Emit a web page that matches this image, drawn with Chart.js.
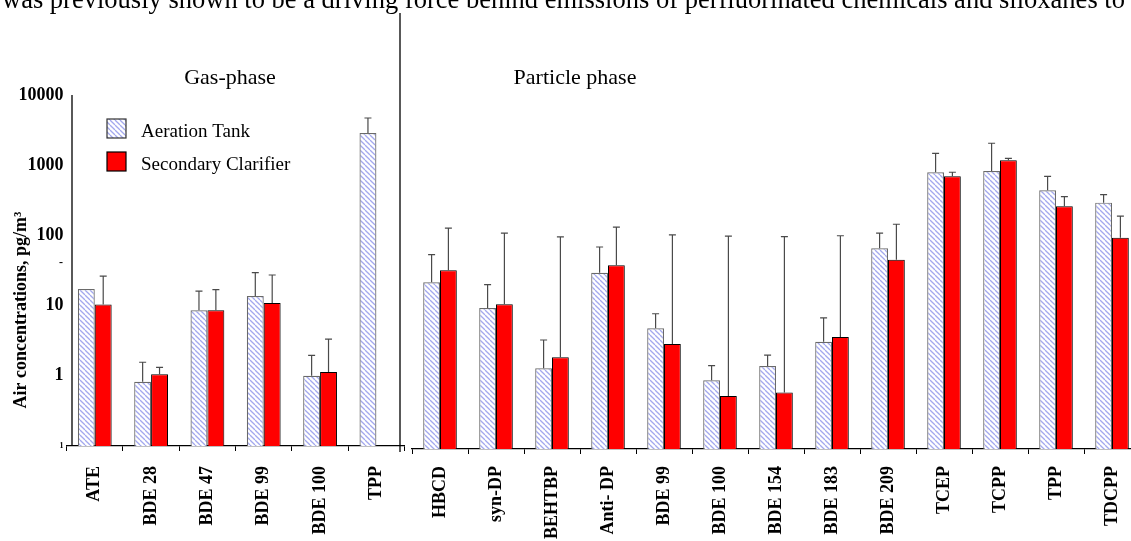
<!DOCTYPE html>
<html>
<head>
<meta charset="utf-8">
<script src="https://cdn.jsdelivr.net/npm/chart.js@4/dist/chart.umd.min.js"></script>
<style>
  html, body { margin: 0; padding: 0; background: #fff; overflow: hidden; width: 1131px; height: 541px; }
  canvas { position: absolute; left: 0; top: 0; }
</style>
</head>
<body>
<canvas id="gasChart" width="413" height="541"></canvas>
<canvas id="particleChart" width="1150" height="541"></canvas>
<script>
const topLine = 'was previously shown to be a driving force behind emissions of perfluorinated chemicals and siloxanes to';

const gasCategories = ['ATE', 'BDE 28', 'BDE 47', 'BDE 99', 'BDE 100', 'TPP'];
const gasAeration = [17.2, 0.82, 8.6, 13.7, 1.0, 2880];
const gasAerationErr = [null, 1.56, 16.1, 29.4, 1.96, 4700];
const gasClarifier = [10.4, 1.05, 8.6, 10.9, 1.13, null];
const gasClarifierErr = [26.3, 1.32, 16.9, 27.3, 3.34, null];

const particleCategories = ['HBCD', 'syn-DP', 'BEHTBP', 'Anti- DP', 'BDE 99', 'BDE 100', 'BDE 154',
  'BDE 183', 'BDE 209', 'TCEP', 'TCPP', 'TPP', 'TDCPP'];
const particleAeration = [23.7, 10.2, 1.41, 32.4, 5.24, 0.95, 1.52, 3.37, 72.3, 875, 912, 484, 323];
const particleAerationErr = [58.6, 21.9, 3.57, 75.4, 8.45, 1.54, 2.18, 7.4, 119, 1630, 2265, 767, 420];
const particleClarifier = [35.2, 11.5, 2.02, 41.4, 3.13, 0.57, 0.64, 3.94, 49.8, 767, 1297, 286, 102];
const particleClarifierErr = [140, 119, 105, 145, 112, 108, 106, 109, 159, 875, 1384, 393, 208];

const yTicks = [0.1, 1, 10, 100, 1000, 10000];
const yTickLabels = ['1', '1', '10', '100', '1000', '10000'];

const serif = "'Liberation Serif', 'Times New Roman', serif";

// hatched fill for the aeration tank bars
function makeHatch() {
  const c = document.createElement('canvas');
  c.width = 5; c.height = 5;
  const g = c.getContext('2d');
  g.fillStyle = '#fff';
  g.fillRect(0, 0, 5, 5);
  g.strokeStyle = '#a3a8ee';
  g.lineWidth = 1.3;
  for (const k of [-5, 0, 5]) {
    g.beginPath();
    g.moveTo(k, 0);
    g.lineTo(k + 5, 5);
    g.stroke();
  }
  return g.createPattern(c, 'repeat');
}
const hatch = makeHatch();

function datasets(aer, aerErr, cla, claErr) {
  return [
    { label: 'Aeration Tank', data: aer, errorTops: aerErr, backgroundColor: hatch,
      borderColor: '#6a6a6a', borderWidth: 1.2, categoryPercentage: 0.6, barPercentage: 1.0 },
    { label: 'Secondary Clarifier', data: cla, errorTops: claErr, backgroundColor: '#ff0000',
      borderColor: '#000', borderWidth: 1, categoryPercentage: 0.6, barPercentage: 1.0 }
  ];
}

const errorBars = {
  id: 'errorBars',
  afterDatasetsDraw(chart) {
    const ctx = chart.ctx;
    const y = chart.scales.y;
    ctx.save();
    ctx.strokeStyle = '#4a4a4a';
    ctx.lineWidth = 1.2;
    chart.data.datasets.forEach((ds, i) => {
      chart.getDatasetMeta(i).data.forEach((bar, j) => {
        const top = ds.errorTops[j];
        if (top == null || ds.data[j] == null) return;
        const yt = y.getPixelForValue(top);
        ctx.beginPath();
        ctx.moveTo(bar.x, bar.y);
        ctx.lineTo(bar.x, yt);
        ctx.moveTo(bar.x - 3.5, yt);
        ctx.lineTo(bar.x + 3.5, yt);
        ctx.stroke();
      });
    });
    ctx.restore();
  }
};

function scales(cfg) {
  return {
    x: {
      offset: true,
      grid: { display: true, drawOnChartArea: false, drawTicks: true, tickLength: 5, offset: true, color: '#000', lineWidth: 1 },
      border: { display: true, color: '#000', width: 1.3 },
      ticks: { autoSkip: false, minRotation: 90, maxRotation: 90, padding: cfg.tickPad, color: '#000',
        font: { family: serif, size: 18, weight: 'bold' } },
      afterFit(s) { s.height = cfg.xHeight; }
    },
    y: {
      type: 'logarithmic',
      display: cfg.showY,
      min: 0.1, max: 10000,
      grid: { display: false, drawTicks: false },
      border: { display: false },
      afterBuildTicks(s) { s.ticks = yTicks.map(v => ({ value: v })); },
      ticks: {
        padding: 3, color: '#000',
        font: (c) => ({ family: serif, size: c.index === 0 ? 8 : 18, weight: 'bold' }),
        callback: (v) => yTickLabels[yTicks.indexOf(v)]
      },
      afterFit(s) { s.width = cfg.yWidth; }
    }
  };
}

const gasDecor = {
  id: 'gasDecor',
  afterDraw(chart) {
    const ctx = chart.ctx;
    const a = chart.chartArea;
    ctx.save();
    ctx.strokeStyle = '#000';
    ctx.lineWidth = 1.3;
    ctx.beginPath();
    ctx.moveTo(72, a.top);
    ctx.lineTo(72, a.bottom);
    ctx.moveTo(400, 13);
    ctx.lineTo(400, 452);
    ctx.stroke();

    ctx.fillStyle = '#000';
    ctx.font = 'bold 12px ' + serif;
    ctx.textAlign = 'center';
    ctx.fillText('-', 61, 266);

    ctx.font = '22px ' + serif;
    ctx.textBaseline = 'alphabetic';
    ctx.fillText('Gas-phase', 230, 84);

    // legend
    ctx.textAlign = 'left';
    ctx.font = '19px ' + serif;
    chart.data.datasets.forEach((ds, i) => {
      const by = 119 + i * 33;
      ctx.fillStyle = ds.backgroundColor;
      ctx.fillRect(107, by, 19, 19);
      ctx.strokeStyle = i === 0 ? '#333' : '#000';
      ctx.lineWidth = 1.2;
      ctx.strokeRect(107, by, 19, 19);
      ctx.fillStyle = '#000';
      ctx.fillText(ds.label, 141, by + 18);
    });

    ctx.translate(26, 310);
    ctx.rotate(-Math.PI / 2);
    ctx.textAlign = 'center';
    ctx.font = 'bold 18px ' + serif;
    ctx.fillText('Air concentrations, pg/m\u00b3', 0, 0);
    ctx.restore();
  }
};

const particleDecor = {
  id: 'particleDecor',
  afterDraw(chart) {
    const ctx = chart.ctx;
    ctx.save();
    ctx.fillStyle = '#000';
    ctx.textAlign = 'center';
    ctx.font = '22px ' + serif;
    ctx.fillText('Particle phase', 575, 84);

    ctx.textAlign = 'left';
    ctx.font = '24px ' + serif;
    const w = ctx.measureText(topLine).width;
    ctx.font = (24 * 1123 / w).toFixed(2) + 'px ' + serif;
    ctx.fillText(topLine, 2, 8);
    ctx.restore();
  }
};

const common = {
  responsive: false,
  animation: false,
  devicePixelRatio: 1,
  plugins: { legend: { display: false }, tooltip: { enabled: false } }
};

new Chart(document.getElementById('gasChart'), {
  type: 'bar',
  data: { labels: gasCategories, datasets: datasets(gasAeration, gasAerationErr, gasClarifier, gasClarifierErr) },
  options: Object.assign({}, common, {
    layout: { padding: { top: 95, left: 0, right: 0, bottom: 0 } },
    scales: scales({ showY: true, yWidth: 66.6, xHeight: 95, tickPad: 15 })
  }),
  plugins: [errorBars, gasDecor]
});

new Chart(document.getElementById('particleChart'), {
  type: 'bar',
  data: { labels: particleCategories, datasets: datasets(particleAeration, particleAerationErr, particleClarifier, particleClarifierErr) },
  options: Object.assign({}, common, {
    layout: { padding: { top: 98, left: 412, right: 10, bottom: 0 } },
    scales: scales({ showY: false, yWidth: 0, xHeight: 92, tickPad: 12 })
  }),
  plugins: [errorBars, particleDecor]
});
</script>
</body>
</html>
